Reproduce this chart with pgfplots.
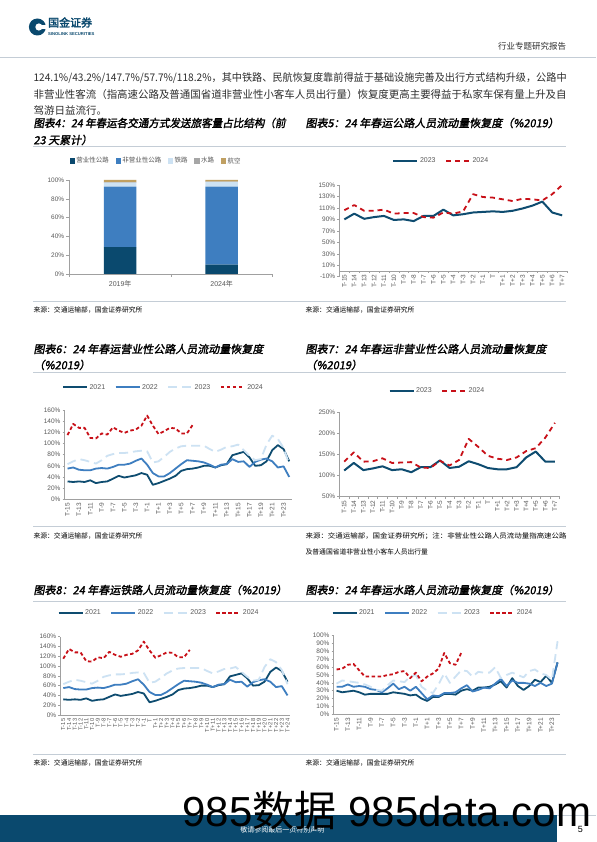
\documentclass[border=0pt]{standalone}
\usepackage{fontspec}
\setmainfont{Liberation Sans}
\newfontfamily\cjk{Noto Sans CJK SC}
\newfontfamily\cjkt{Noto Sans CJK SC}[FakeBold=1.8,FakeSlant=0.18]
\newfontfamily\cjkb{Noto Sans CJK SC}[FakeBold=2.5]
\usepackage{graphicx}
\usepackage{pgfplots}
\usepackage{pgfplotstable}
\pgfplotsset{compat=1.18}

\definecolor{c21}{RGB}{14,76,112}
\definecolor{c22}{RGB}{62,126,192}
\definecolor{c23}{RGB}{205,226,243}
\definecolor{c24}{RGB}{200,16,24}
\definecolor{axg}{RGB}{160,160,160}
\definecolor{lbl}{RGB}{89,89,89}
\definecolor{sepc}{RGB}{196,205,214}
\definecolor{navy}{RGB}{10,73,110}
\definecolor{tanc}{RGB}{192,160,98}
\definecolor{grayb}{RGB}{166,166,166}
\definecolor{bodyc}{RGB}{45,45,45}

% chart 6 / chart 8 : T-15 ... T+24
\pgfplotstableread{
i a b c d
0 32 55 63 115
1 31 57 68 135
2 32 53 72 128
3 31 52 70 128
4 34 52 67 110
5 29 55 64 109
6 31 56 70 118
7 32 55 78 116
8 37 58 81 129
9 42 62 83 123
10 39 62 83 119
11 41 64 84 123
12 43 69 86 125
13 47 73 87 132
14 44 62 86 150
15 26 47 66 132
16 29 41 68 117
17 33 41 76 122
18 37 47 85 128
19 42 55 91 127
20 51 63 95 118
21 54 70 96 118
22 55 69 96 133
23 57 68 96 nan
24 60 66 96 nan
25 60 62 90 nan
26 57 57 85 nan
27 61 62 89 nan
28 63 63 94 nan
29 79 72 95 nan
30 82 67 98 nan
31 85 68 88 nan
32 75 58 78 nan
33 60 67 70 nan
34 61 71 72 nan
35 68 73 98 nan
36 88 68 114 nan
37 97 57 108 nan
38 90 59 92 nan
39 68 40 63 nan
}\roadtab

% chart 9 : water
\pgfplotstableread{
i a b c d
0 30 35 39 57
1 28 35 43 58
2 29 38 42 63
3 30 35 41 64
4 28 36 40 56
5 25 35 38 48
6 26 32 35 48
7 26 31 31 48
8 26 28 30 48
9 26 33 37 50
10 28 39 43 51
11 27 32 42 54
12 26 35 41 55
13 24 30 48 46
14 25 35 50 53
15 20 27 35 42
16 17 19 30 48
17 22 24 27 52
18 22 23 38 58
19 26 27 52 78
20 26 27 40 65
21 25 28 48 63
22 30 33 56 78
23 32 37 55 nan
24 30 29 48 nan
25 34 31 54 nan
26 34 34 53 nan
27 35 33 53 nan
28 38 39 60 nan
29 42 45 46 nan
30 34 36 50 nan
31 46 43 53 nan
32 36 40 50 nan
33 31 40 47 nan
34 36 39 55 nan
35 44 36 57 nan
36 41 40 52 nan
37 49 36 50 nan
38 40 39 44 nan
39 66 66 93 nan
}\watertab

% chart 5 : road total
\pgfplotstableread{
i a d
0 90 106
1 100 115
2 91 105
3 94 105
4 96 107
5 89 100
6 90 101
7 87 101
8 96 94
9 96 93
10 107 102
11 97 100
12 99 104
13 102 134
14 103 129
15 104 128
16 103 125
17 105 122
18 109 126
19 114 125
20 121 123
21 102 134
22 97 150
}\totaltab

% chart 7 : non-commercial road
\pgfplotstableread{
i a d
0 112 133
1 130 155
2 113 133
3 117 134
4 122 141
5 113 130
6 115 131
7 108 132
8 120 119
9 120 118
10 136 135
11 118 124
12 121 137
13 134 187
14 127 168
15 118 147
16 115 140
17 115 137
18 120 143
19 143 158
20 157 165
21 133 190
22 133 225
}\privtab

\pgfplotsset{
  base/.style={
    scale only axis,
    axis x line*=bottom, axis y line*=left,
    axis line style={draw=axg, line width=0.6pt, -},
    tick style={draw=axg, line width=0.5pt},
    tick align=outside, major tick length=2pt, minor tick length=2pt,
    ticklabel style={font=\fontsize{6.5}{7}\selectfont, text=lbl},
    yticklabel style={inner sep=2pt},
    major x tick style={draw=none},
    legend style={draw=none, fill=none, inner sep=0pt,
      font=\fontsize{7}{8}\selectfont, text=lbl, legend columns=-1,
      /tikz/every even column/.append style={column sep=8pt},
      nodes={inner sep=1.6pt}},
    legend image code/.code={\draw[##1] (0pt,0pt) -- (24pt,0pt);},
  },
  rotlab/.style={xticklabel style={rotate=90, anchor=east, inner sep=1.5pt}},
  sqlegend/.style={legend image code/.code={\fill[##1] (0pt,-2.6pt) rectangle (5.2pt,2.6pt);}},
  s21/.style={c21, line width=1.8pt, line join=round},
  s22/.style={c22, line width=1.8pt, line join=round},
  s23/.style={c23, line width=1.8pt, line join=round, dash pattern=on 9pt off 5pt},
  s24/.style={c24, line width=1.8pt, line join=round, dash pattern=on 3.5pt off 2.5pt},
  t23/.style={c21, line width=2pt, line join=round},
  t24/.style={c24, line width=1.8pt, line join=round, dash pattern=on 5pt off 4pt},
}

\newcommand\ttl{\cjkt\fontsize{11}{12}\selectfont}
\newcommand\src{\cjk\fontsize{6.8}{8}\selectfont}

\begin{document}
\begin{tikzpicture}[x=1pt,y=1pt]
\fill[white] (0,0) rectangle (596,842);

% ---------- header ----------
\fill[navy] (37,815) circle (8.5);
\fill[white] (38.5,815) circle (3.6);
\fill[white] (40,813.2) rectangle (46,816.8);
\node[anchor=west, inner sep=0, text=navy, font=\cjkb\fontsize{11}{12}\selectfont] at (47.5,819.5) {国金证券};
\node[anchor=west, inner sep=0, text=navy, font=\bfseries\fontsize{4.2}{5}\selectfont] at (47.5,808) {SINOLINK SECURITIES};
\node[anchor=east, inner sep=0, text=bodyc, font=\cjk\fontsize{8.5}{10}\selectfont] at (566,796) {行业专题研究报告};
\draw[sepc, line width=0.8pt] (0,785) -- (596,785);

% ---------- body text ----------
\node[anchor=west, inner sep=0, text=bodyc] at (33,764) {\resizebox{533pt}{\height}{\cjk\fontsize{10.5}{12}\selectfont 124.1\%/43.2\%/147.7\%/57.7\%/118.2\%，其中铁路、民航恢复度靠前得益于基础设施完善及出行方式结构升级，公路中}};
\node[anchor=west, inner sep=0, text=bodyc] at (33,747) {\resizebox{533pt}{\height}{\cjk\fontsize{10.5}{12}\selectfont 非营业性客流（指高速公路及普通国省道非营业性小客车人员出行量）恢复度更高主要得益于私家车保有量上升及自}};
\node[anchor=west, inner sep=0, text=bodyc, font=\cjk\fontsize{10.5}{12}\selectfont] at (33,731) {驾游日益流行。};

% ---------- section 1 titles ----------
\node[anchor=west, inner sep=0] at (33,719) {\resizebox{252pt}{\height}{\ttl 图表4：24 年春运各交通方式发送旅客量占比结构（前}};
\node[anchor=west, inner sep=0, font=\ttl] at (33,702) {23 天累计）};
\node[anchor=west, inner sep=0, font=\ttl] at (305,719) {图表5：24 年春运公路人员流动量恢复度（\%2019）};
\draw[sepc, line width=0.8pt] (33,696) -- (566,696);

% ---------- chart 4 ----------
\begin{axis}[base, at={(69pt,568pt)}, anchor=south west, width=203pt, height=94pt,
  ybar stacked, bar width=32.5pt,
  xmin=-0.5, xmax=1.5, ymin=0, ymax=100,
  xtick={0,1}, xticklabels={{2019{\cjk 年}},{2024{\cjk 年}}},
  xticklabel style={anchor=north, inner sep=3pt, font=\fontsize{7}{8}\selectfont},
  minor xtick={-0.5,0.5,1.5}, minor tick length=3pt,
  ytick={0,20,40,60,80,100}, yticklabels={0\%,20\%,40\%,60\%,80\%,100\%},
  major tick length=3pt,
  legend style={at={(0,1.202)}, anchor=west, font=\cjk\fontsize{6.5}{7}\selectfont,
    /tikz/every even column/.append style={column sep=5pt}},
]
\addplot[fill=navy, draw=none, sqlegend] coordinates {(0,28.6) (1,10.0)};
\addlegendentry{营业性公路}
\addplot[fill=c22, draw=none, sqlegend] coordinates {(0,64.3) (1,82.9)};
\addlegendentry{非营业性公路}
\addplot[fill=c23, draw=none, sqlegend] coordinates {(0,4.3) (1,5.0)};
\addlegendentry{铁路}
\addplot[fill=grayb, draw=none, sqlegend] coordinates {(0,0.5) (1,0.4)};
\addlegendentry{水路}
\addplot[fill=tanc, draw=none, sqlegend] coordinates {(0,2.3) (1,1.7)};
\addlegendentry{航空}
\end{axis}

% ---------- chart 5 ----------
\begin{axis}[base, rotlab, at={(339pt,565.3pt)}, anchor=south west, width=227.7pt, height=91.7pt,
  axis x line*=middle,
  xmin=-0.5, xmax=22.5, ymin=-10, ymax=150,
  xtick={0,...,22},
  xticklabels={T-15,T-14,T-13,T-12,T-11,T-10,T-9,T-8,T-7,T-6,T-5,T-4,T-3,T-2,T-1,T,T+1,T+2,T+3,T+4,T+5,T+6,T+7},
  minor xtick={-0.5,0.5,...,22.5},
  ytick={-10,10,30,50,70,90,110,130,150},
  yticklabels={-10\%,10\%,30\%,50\%,70\%,90\%,110\%,130\%,150\%},
  legend style={at={(0.232,1.262)}, anchor=west},
]
\addplot[t23] table[x=i, y=a] {\totaltab};
\addlegendentry{2023}
\addplot[t24] table[x=i, y=d] {\totaltab};
\addlegendentry{2024}
\end{axis}

\draw[sepc, line width=0.8pt] (33,540.3) -- (566,540.3);
\node[anchor=west, inner sep=0, font=\src] at (33,532) {来源：交通运输部，国金证券研究所};
\node[anchor=west, inner sep=0, font=\src] at (305,532) {来源：交通运输部，国金证券研究所};

% ---------- section 2 titles ----------
\node[anchor=west, inner sep=0, font=\ttl] at (33,493) {图表6：24 年春运营业性公路人员流动量恢复度};
\node[anchor=west, inner sep=0, font=\ttl] at (33,477) {（\%2019）};
\node[anchor=west, inner sep=0, font=\ttl] at (305,493) {图表7：24 年春运非营业性公路人员流动量恢复度};
\node[anchor=west, inner sep=0, font=\ttl] at (305,477) {（\%2019）};
\draw[sepc, line width=0.8pt] (33,470) -- (566,470);

% ---------- chart 6 ----------
\begin{axis}[base, rotlab, at={(64.3pt,342.7pt)}, anchor=south west, width=227.4pt, height=89.3pt,
  xmin=-0.5, xmax=39.5, ymin=0, ymax=160,
  xtick={0,2,...,38},
  xticklabels={T-15,T-13,T-11,T-9,T-7,T-5,T-3,T-1,T+1,T+3,T+5,T+7,T+9,T+11,T+13,T+15,T+17,T+19,T+21,T+23},
  ytick={0,20,...,160},
  yticklabels={0\%,20\%,40\%,60\%,80\%,100\%,120\%,140\%,160\%},
  legend style={at={(-0.012,1.254)}, anchor=west},
]
\addplot[s21] table[x=i, y=a] {\roadtab};
\addlegendentry{2021}
\addplot[s22] table[x=i, y=b] {\roadtab};
\addlegendentry{2022}
\addplot[s23] table[x=i, y=c] {\roadtab};
\addlegendentry{2023}
\addplot[s24] table[x=i, y=d] {\roadtab};
\addlegendentry{2024}
\end{axis}

% ---------- chart 7 ----------
\begin{axis}[base, rotlab, at={(339pt,345.3pt)}, anchor=south west, width=220.3pt, height=84.4pt,
  xmin=-0.5, xmax=22.5, ymin=50, ymax=250,
  xtick={0,...,22},
  xticklabels={T-15,T-14,T-13,T-12,T-11,T-10,T-9,T-8,T-7,T-6,T-5,T-4,T-3,T-2,T-1,T,T+1,T+2,T+3,T+4,T+5,T+6,T+7},
  minor xtick={-0.5,0.5,...,22.5},
  ytick={50,100,...,250},
  yticklabels={50\%,100\%,150\%,200\%,250\%},
  legend style={at={(0.222,1.256)}, anchor=west},
]
\addplot[t23] table[x=i, y=a] {\privtab};
\addlegendentry{2023}
\addplot[t24] table[x=i, y=d] {\privtab};
\addlegendentry{2024}
\end{axis}

\draw[sepc, line width=0.8pt] (33,315.3) -- (566,315.3);
\node[anchor=west, inner sep=0, font=\src] at (33,306.3) {来源：交通运输部，国金证券研究所};
\node[anchor=west, inner sep=0] at (305,306.3) {\resizebox{261pt}{\height}{\src 来源：交通运输部，国金证券研究所；注：非营业性公路人员流动量指高速公路}};
\node[anchor=west, inner sep=0, font=\src] at (305,290) {及普通国省道非营业性小客车人员出行量};

% ---------- section 3 titles ----------
\node[anchor=west, inner sep=0, font=\ttl] at (33,252) {图表8：24 年春运铁路人员流动量恢复度（\%2019）};
\node[anchor=west, inner sep=0, font=\ttl] at (305,252) {图表9：24 年春运水路人员流动量恢复度（\%2019）};
\draw[sepc, line width=0.8pt] (33,240.3) -- (566,240.3);

% ---------- chart 8 ----------
\begin{axis}[base, rotlab, at={(60pt,127pt)}, anchor=south west, width=230pt, height=78.3pt,
  xmin=-0.5, xmax=39.5, ymin=0, ymax=160,
  xtick={0,...,39},
  xticklabels={T-15,T-14,T-13,T-12,T-11,T-10,T-9,T-8,T-7,T-6,T-5,T-4,T-3,T-2,T-1,T,T+1,T+2,T+3,T+4,T+5,T+6,T+7,T+8,T+9,T+10,T+11,T+12,T+13,T+14,T+15,T+16,T+17,T+18,T+19,T+20,T+21,T+22,T+23,T+24},
  xticklabel style={font=\fontsize{5.8}{6}\selectfont},
  ytick={0,20,...,160},
  yticklabels={0\%,20\%,40\%,60\%,80\%,100\%,120\%,140\%,160\%},
  legend style={at={(-0.012,1.299)}, anchor=west},
]
\addplot[s21] table[x=i, y=a] {\roadtab};
\addlegendentry{2021}
\addplot[s22] table[x=i, y=b] {\roadtab};
\addlegendentry{2022}
\addplot[s23] table[x=i, y=c] {\roadtab};
\addlegendentry{2023}
\addplot[s24] table[x=i, y=d] {\roadtab};
\addlegendentry{2024}
\end{axis}

% ---------- chart 9 ----------
\begin{axis}[base, rotlab, at={(333.3pt,127.7pt)}, anchor=south west, width=226.7pt, height=78.6pt,
  xmin=-0.5, xmax=39.5, ymin=0, ymax=100,
  xtick={0,2,...,38},
  xticklabels={T-15,T-13,T-11,T-9,T-7,T-5,T-3,T-1,T+1,T+3,T+5,T+7,T+9,T+11,T+13,T+15,T+17,T+19,T+21,T+23},
  ytick={0,10,...,100},
  yticklabels={0\%,10\%,20\%,30\%,40\%,50\%,60\%,70\%,80\%,90\%,100\%},
  legend style={at={(-0.01,1.285)}, anchor=west},
]
\addplot[s21] table[x=i, y=a] {\watertab};
\addlegendentry{2021}
\addplot[s22] table[x=i, y=b] {\watertab};
\addlegendentry{2022}
\addplot[s23] table[x=i, y=c] {\watertab};
\addlegendentry{2023}
\addplot[s24] table[x=i, y=d] {\watertab};
\addlegendentry{2024}
\end{axis}

\draw[sepc, line width=0.8pt] (33,88) -- (566,88);
\node[anchor=west, inner sep=0, font=\src] at (33,79) {来源：交通运输部，国金证券研究所};
\node[anchor=west, inner sep=0, font=\src] at (305,79) {来源：交通运输部，国金证券研究所};

% ---------- footer ----------
\fill[navy] (0,0) rectangle (557,27);
\draw[sepc, line width=0.6pt] (557,27) -- (596,27);
\node[text=white, inner sep=0, font=\cjk\fontsize{7}{8}\selectfont] at (282,12) {敬请参阅最后一页特别声明};
\node[inner sep=0, font=\fontsize{9}{10}\selectfont] at (580,13) {5};
\node[anchor=base west, inner sep=0, font=\fontsize{42}{42}\selectfont] at (182,15) {985{\cjk 数据} 985data.com};
\end{tikzpicture}
\end{document}
